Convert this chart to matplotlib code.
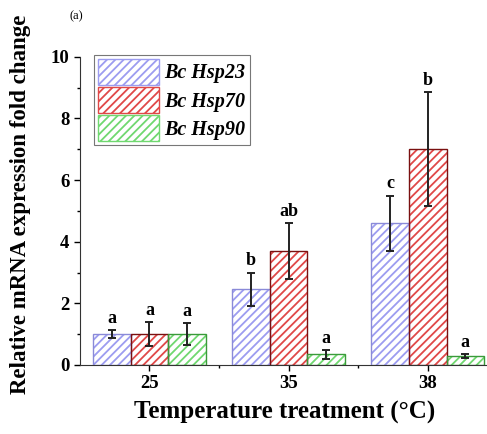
import numpy as np
import matplotlib
matplotlib.use("Agg")
import matplotlib.pyplot as plt
from matplotlib.ticker import MultipleLocator
from matplotlib.patches import Patch

plt.rcParams["font.family"] = ["Liberation Serif", "DejaVu Serif"]
plt.rcParams["hatch.linewidth"] = 1.3

# data
temps = ["25", "35", "38"]
genes = ["Bc Hsp23", "Bc Hsp70", "Bc Hsp90"]
hsp23 = [1.0, 2.45, 4.6]
hsp70 = [1.0, 3.7, 7.0]
hsp90 = [1.0, 0.35, 0.3]
err23 = [0.12, 0.55, 0.9]
err70 = [0.38, 0.9, 1.85]
err90 = [0.35, 0.15, 0.06]
lab23 = ["a", "b", "c"]
lab70 = ["a", "ab", "b"]
lab90 = ["a", "a", "a"]

series = [
    (hsp23, err23, lab23, "#9c9cf0", "#8a8ad8"),
    (hsp70, err70, lab70, "#e04848", "#7a1010"),
    (hsp90, err90, lab90, "#70d870", "#3a9a3a"),
]

fig = plt.figure(figsize=(4.87, 4.34), dpi=100)
ax = fig.add_axes([0.164, 0.159, 0.84, 0.71])

x = np.arange(len(temps))
w = 0.27
for i, (vals, errs, labs, hc, ec) in enumerate(series):
    pos = x + (i - 1) * w
    ax.bar(pos, vals, w, facecolor="white", edgecolor=hc, hatch="////",
           linewidth=0, label=genes[i], zorder=2)
    ax.bar(pos, vals, w, facecolor="none", edgecolor=ec, linewidth=1.0, zorder=3)
    ax.errorbar(pos, vals, yerr=errs, fmt="none", ecolor="#222222",
                elinewidth=1.4, capsize=3, capthick=1.4, zorder=4)
    for p, v, e, t in zip(pos, vals, errs, labs):
        ax.text(p, v + e + 0.1, t, ha="center", va="bottom",
                fontsize=13, fontweight="bold")

# legend handles with hatch colour
handles = [Patch(facecolor="white", edgecolor=s[3], hatch="////", linewidth=1.0)
           for s in series]
leg = ax.legend(handles, genes, loc="upper left", bbox_to_anchor=(0.025, 1.02),
                frameon=True, fancybox=False, edgecolor="#555555",
                prop={"weight": "bold", "style": "italic", "size": 14.5},
                handlelength=3.0, handleheight=1.6, labelspacing=0.12,
                borderpad=0.2, handletextpad=0.3, borderaxespad=0.2)
leg.get_frame().set_linewidth(0.8)

ax.set_xlim(-0.5, 2.44)
ax.set_ylim(0, 10)
ax.set_xticks(x)
ax.set_xticklabels(temps)
ax.set_xticks([0.5, 1.5], minor=True)
ax.yaxis.set_major_locator(MultipleLocator(2))
ax.yaxis.set_minor_locator(MultipleLocator(1))
ax.tick_params(axis="both", which="major", direction="out", length=4,
               width=1, labelsize=13.5)
ax.tick_params(axis="both", which="minor", direction="out", length=2.5, width=1)
for lbl in ax.get_xticklabels() + ax.get_yticklabels():
    lbl.set_fontweight("bold")

ax.spines["top"].set_visible(False)
ax.spines["right"].set_visible(False)
ax.spines["left"].set_color("#333333")
ax.spines["bottom"].set_color("#333333")

ax.set_xlabel("Temperature treatment (\u00b0C)", fontsize=18, fontweight="bold",
              labelpad=6)
ax.set_ylabel("Relative mRNA expression fold change", fontsize=16.5,
              fontweight="bold", labelpad=14, y=0.52)
fig.text(0.143, 0.955, "(a)", fontsize=9)

fig.savefig("out.png", dpi=100)
